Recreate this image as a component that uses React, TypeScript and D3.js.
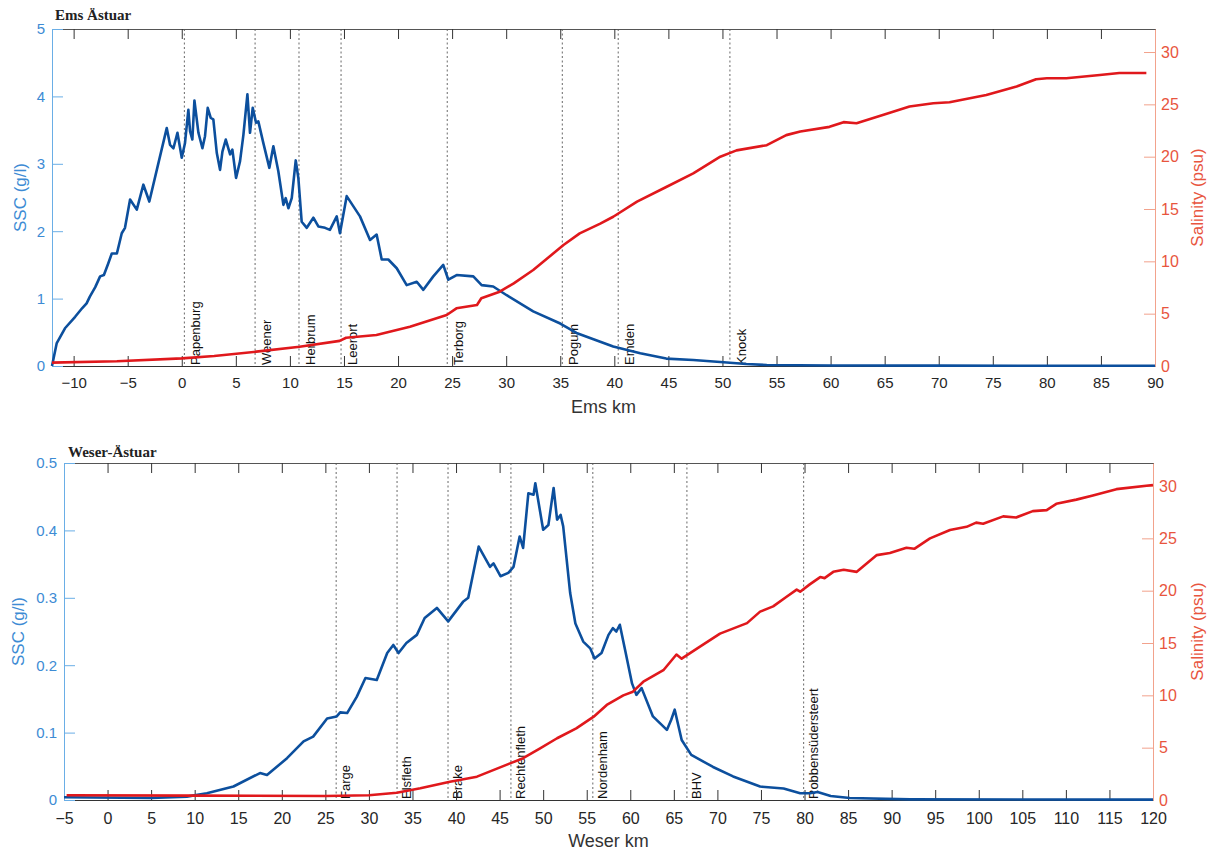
import React, { useEffect, useRef } from "react";
import * as d3 from "d3";

// Ems Ästuar
const emsSscKm = [-12, -11.56, -10.8, -9.86, -9.2, -8.8, -8.5, -8.0, -7.55, -7.2, -6.8, -6.47, -6.0, -5.55, -5.25, -4.78, -4.16, -3.55, -3.0, -2.16, -1.39, -1.08, -0.77, -0.4, 0, 0.3, 0.61, 0.77, 0.98, 1.17, 1.54, 1.91, 2.15, 2.4, 2.68, 2.92, 3.24, 3.54, 3.76, 4.07, 4.47, 4.68, 5.02, 5.39, 5.7, 6.07, 6.31, 6.56, 6.87, 7.08, 7.54, 8.1, 8.47, 8.93, 9.4, 9.61, 9.86, 10.17, 10.54, 10.78, 11.09, 11.56, 12.17, 12.63, 13.25, 13.7, 14.33, 14.63, 15.25, 16.48, 17.41, 18.02, 18.49, 19.1, 19.88, 20.8, 21.73, 22.34, 23.26, 24.18, 24.65, 25.42, 26.96, 27.73, 28.8, 30.05, 32.5, 35.0, 36.5, 38.7, 39.9, 42.4, 44.8, 47.3, 49.8, 52.2, 54.1, 60, 70, 80, 90];
const emsSsc = [0.0, 0.34, 0.56, 0.73, 0.86, 0.93, 1.03, 1.17, 1.33, 1.35, 1.52, 1.67, 1.67, 1.97, 2.05, 2.47, 2.32, 2.69, 2.44, 3.01, 3.53, 3.28, 3.23, 3.46, 3.09, 3.31, 3.80, 3.48, 3.36, 3.94, 3.46, 3.23, 3.41, 3.83, 3.68, 3.66, 3.16, 2.91, 3.18, 3.36, 3.14, 3.21, 2.79, 3.04, 3.43, 4.03, 3.46, 3.83, 3.61, 3.63, 3.31, 2.94, 3.26, 2.89, 2.39, 2.49, 2.34, 2.49, 3.05, 2.79, 2.14, 2.05, 2.20, 2.07, 2.05, 2.02, 2.22, 1.97, 2.52, 2.22, 1.87, 1.95, 1.58, 1.58, 1.45, 1.20, 1.25, 1.13, 1.33, 1.50, 1.28, 1.35, 1.33, 1.20, 1.18, 1.05, 0.81, 0.63, 0.49, 0.36, 0.29, 0.19, 0.11, 0.09, 0.06, 0.03, 0.015, 0.008, 0.005, 0.004, 0.003];
const emsSalKm = [-12, -6, 0, 3, 6.9, 10.9, 14.6, 15.2, 18.0, 21.1, 24.5, 25.4, 27.3, 27.7, 29.4, 30.7, 32.5, 35.3, 36.8, 38.7, 39.9, 42.1, 44.8, 47.3, 49.8, 51.3, 54.1, 55.9, 57.2, 59.9, 61.2, 62.4, 64.9, 67.3, 69.5, 71.0, 74.4, 77.2, 79.0, 80.0, 81.8, 84.9, 86.7, 89.2];
const emsSal = [0.32, 0.45, 0.73, 0.95, 1.37, 1.84, 2.40, 2.7, 2.96, 3.76, 4.87, 5.51, 5.83, 6.47, 7.1, 7.9, 9.17, 11.56, 12.67, 13.6, 14.26, 15.7, 17.1, 18.4, 20.0, 20.6, 21.1, 22.06, 22.4, 22.85, 23.3, 23.2, 24.0, 24.8, 25.1, 25.2, 25.9, 26.7, 27.4, 27.5, 27.5, 27.8, 28.0, 28.0];
const emsStations = ["Papenburg", "Weener", "Herbrum", "Leerort", "Terborg", "Pogum", "Emden", "Knock"];
const emsStationKm = [0.24, 6.78, 10.84, 14.73, 24.55, 35.19, 40.36, 50.69];
const emsXTicks = [-10, -5, 0, 5, 10, 15, 20, 25, 30, 35, 40, 45, 50, 55, 60, 65, 70, 75, 80, 85, 90];
const emsSscTicks = [0, 1, 2, 3, 4, 5];
const emsSscLabels = ["0", "1", "2", "3", "4", "5"];

// Weser-Ästuar
const weserSscKm = [-5, 5, 9.1, 11.4, 14.45, 17.5, 18.3, 20.6, 22.5, 23.6, 25.2, 26.3, 26.7, 27.5, 28.6, 29.6, 30.9, 32.1, 32.8, 33.4, 34.3, 35.5, 36.4, 37.8, 39.1, 40.8, 41.4, 42.6, 43.9, 44.3, 45.1, 46.0, 46.6, 47.3, 47.7, 48.3, 48.9, 49.1, 50.0, 50.6, 51.2, 51.6, 52.0, 52.3, 53.1, 53.7, 54.6, 55.4, 55.9, 56.7, 57.5, 58.0, 58.4, 58.8, 59.4, 60.2, 60.7, 61.3, 62.6, 64.2, 64.7, 65.1, 65.9, 67.0, 69.5, 71.8, 74.9, 77.6, 79.5, 80.6, 81.5, 83, 85.2, 92.1, 120];
const weserSsc = [0.004, 0.003, 0.005, 0.010, 0.020, 0.040, 0.037, 0.062, 0.087, 0.094, 0.121, 0.124, 0.130, 0.129, 0.153, 0.181, 0.178, 0.218, 0.230, 0.218, 0.233, 0.245, 0.270, 0.285, 0.265, 0.294, 0.300, 0.376, 0.346, 0.351, 0.332, 0.337, 0.346, 0.391, 0.374, 0.455, 0.453, 0.470, 0.401, 0.408, 0.463, 0.416, 0.423, 0.406, 0.307, 0.262, 0.235, 0.225, 0.210, 0.218, 0.245, 0.255, 0.250, 0.260, 0.223, 0.173, 0.156, 0.166, 0.124, 0.104, 0.119, 0.134, 0.089, 0.067, 0.049, 0.035, 0.020, 0.017, 0.010, 0.010, 0.012, 0.006, 0.003, 0.001, 0.0005];
const weserSalKm = [-4.7, 10, 25, 30, 33.2, 35.9, 39.3, 42.4, 46.2, 47.7, 49.6, 51.6, 53.8, 55.8, 57.3, 59.2, 60.3, 61.5, 63.8, 65.3, 65.9, 68.0, 70.3, 73.4, 74.9, 76.4, 77.9, 79.1, 79.5, 80.6, 81.8, 82.3, 83.3, 84.5, 86.0, 88.3, 89.8, 91.7, 92.6, 94.4, 96.7, 98.6, 99.7, 100.5, 102.8, 104.3, 106.2, 107.8, 108.9, 111.2, 113.1, 115.8, 120];
const weserSal = [0.45, 0.42, 0.38, 0.45, 0.70, 1.12, 1.75, 2.23, 3.5, 3.99, 4.9, 5.9, 6.85, 7.96, 9.08, 10.0, 10.35, 11.3, 12.4, 13.9, 13.5, 14.65, 15.9, 16.9, 18.0, 18.5, 19.4, 20.1, 19.9, 20.6, 21.3, 21.2, 21.8, 22.0, 21.8, 23.4, 23.6, 24.1, 24.0, 25.0, 25.8, 26.1, 26.5, 26.4, 27.1, 27.0, 27.6, 27.7, 28.3, 28.7, 29.1, 29.7, 30.1];
const weserStations = ["Farge", "Elsfleth", "Brake", "Rechtenfleth", "Nordenham", "BHV", "Robbensüdersteert"];
const weserStationKm = [26.24, 33.23, 39.08, 46.3, 55.7, 66.5, 79.9];
const weserXTicks = [-5, 0, 5, 10, 15, 20, 25, 30, 35, 40, 45, 50, 55, 60, 65, 70, 75, 80, 85, 90, 95, 100, 105, 110, 115, 120];
const weserSscTicks = [0, 0.1, 0.2, 0.3, 0.4, 0.5];
const weserSscLabels = ["0", "0.1", "0.2", "0.3", "0.4", "0.5"];

const salTicks = [0, 5, 10, 15, 20, 25, 30];

const SSC_COLOR = "#0c4f9d";
const SAL_COLOR = "#e0181c";
const LEFT_AXIS = "#3d8bd4";
const RIGHT_AXIS = "#e8553e";
const FONT = "'Liberation Sans', Arial, sans-serif";

function drawPanel(svg, p) {
    const x = d3.scaleLinear().domain(p.xDomain).range([p.left, p.right]);
    const y = d3.scaleLinear().domain([0, p.sscMax]).range([p.bottom, p.top]);
    const y2 = d3.scaleLinear().domain([0, p.salMax]).range([p.bottom, p.top]);

    const g = svg.append("g");

    // title
    g.append("text")
        .attr("x", p.titleX)
        .attr("y", p.titleY)
        .attr("font-family", "'Liberation Serif', 'Times New Roman', serif")
        .attr("font-weight", "bold")
        .attr("font-size", 15)
        .attr("fill", "#222")
        .text(p.title);

    // station lines
    p.stationKm.forEach((km, i) => {
        g.append("line")
            .attr("x1", x(km)).attr("x2", x(km))
            .attr("y1", p.top).attr("y2", p.bottom)
            .attr("stroke", "#444")
            .attr("stroke-width", 1)
            .attr("stroke-dasharray", "2,2.5")
            .attr("opacity", 0.8);
        g.append("text")
            .attr("transform", "translate(" + (x(km) + p.stationOffset) + "," + (p.bottom - 1) + ") rotate(-90)")
            .attr("font-family", FONT)
            .attr("font-size", 13)
            .attr("fill", "#111")
            .text(p.stations[i]);
    });

    // top box line with ticks
    const topAxis = g.append("g")
        .attr("transform", "translate(0," + p.top + ")")
        .call(d3.axisTop(x).tickValues(p.xTicks).tickSize(-10).tickSizeOuter(0).tickFormat(() => ""));
    topAxis.select(".domain").attr("stroke", "#555");
    topAxis.selectAll(".tick line").attr("stroke", "#333");

    // bottom axis
    const bottomAxis = g.append("g")
        .attr("transform", "translate(0," + p.bottom + ")")
        .call(d3.axisBottom(x).tickValues(p.xTicks).tickSize(-10).tickSizeOuter(0).tickPadding(p.xPad));
    bottomAxis.select(".domain").attr("stroke", "#333");
    bottomAxis.selectAll(".tick line").attr("stroke", "#333");
    bottomAxis.selectAll("text")
        .attr("font-family", FONT)
        .attr("font-size", p.xFont)
        .attr("fill", "#262626");

    // left axis
    const leftAxis = g.append("g")
        .attr("transform", "translate(" + p.left + ",0)")
        .call(d3.axisLeft(y).tickValues(p.sscTicks).tickSize(-11).tickSizeOuter(0).tickPadding(7)
            .tickFormat((d, i) => p.sscLabels[i]));
    leftAxis.select(".domain").attr("stroke", "#6aaee6");
    leftAxis.selectAll(".tick line").attr("stroke", "#6aaee6");
    leftAxis.selectAll("text")
        .attr("font-family", FONT)
        .attr("font-size", 15)
        .attr("fill", LEFT_AXIS);

    // right axis
    const rightAxis = g.append("g")
        .attr("transform", "translate(" + p.right + ",0)")
        .call(d3.axisRight(y2).tickValues(salTicks).tickSize(-11).tickSizeOuter(0).tickPadding(6));
    rightAxis.select(".domain").attr("stroke", "#f2a28c");
    rightAxis.selectAll(".tick line").attr("stroke", "#f2a28c");
    rightAxis.selectAll("text")
        .attr("font-family", FONT)
        .attr("font-size", 16)
        .attr("fill", RIGHT_AXIS);

    // axis titles
    g.append("text")
        .attr("transform", "translate(" + p.leftTitleX + "," + ((p.top + p.bottom) / 2) + ") rotate(-90)")
        .attr("text-anchor", "middle")
        .attr("font-family", FONT)
        .attr("font-size", 17)
        .attr("fill", LEFT_AXIS)
        .text("SSC (g/l)");
    g.append("text")
        .attr("transform", "translate(1203," + ((p.top + p.bottom) / 2) + ") rotate(-90)")
        .attr("text-anchor", "middle")
        .attr("font-family", FONT)
        .attr("font-size", 17)
        .attr("fill", RIGHT_AXIS)
        .text("Salinity (psu)");
    g.append("text")
        .attr("x", (p.left + p.right) / 2)
        .attr("y", p.xTitleY)
        .attr("text-anchor", "middle")
        .attr("font-family", FONT)
        .attr("font-size", 18)
        .attr("fill", "#333")
        .text(p.xTitle);

    // curves
    const ssc = d3.line().x(d => x(d[0])).y(d => y(d[1])).curve(d3.curveLinear);
    const sal = d3.line().x(d => x(d[0])).y(d => y2(d[1])).curve(d3.curveLinear);

    g.append("path")
        .datum(d3.zip(p.sscKm, p.ssc))
        .attr("d", ssc)
        .attr("fill", "none")
        .attr("stroke", SSC_COLOR)
        .attr("stroke-width", 2.6)
        .attr("stroke-linejoin", "round");

    g.append("path")
        .datum(d3.zip(p.salKm, p.sal))
        .attr("d", sal)
        .attr("fill", "none")
        .attr("stroke", SAL_COLOR)
        .attr("stroke-width", 2.6)
        .attr("stroke-linejoin", "round");
}

export default function App() {
    const ref = useRef(null);

    useEffect(() => {
        const svg = d3.select(ref.current);
        svg.selectAll("*").remove();

        drawPanel(svg, {
            title: "Ems Ästuar", titleX: 55, titleY: 20,
            left: 52, right: 1155, top: 29, bottom: 366,
            xDomain: [-12, 90], sscMax: 5, salMax: 32.2,
            xTicks: emsXTicks, sscTicks: emsSscTicks, sscLabels: emsSscLabels,
            sscKm: emsSscKm, ssc: emsSsc, salKm: emsSalKm, sal: emsSal,
            stations: emsStations, stationKm: emsStationKm, stationOffset: 16,
            xPad: 11, xFont: 15, xTitle: "Ems km", xTitleY: 413, leftTitleX: 26,
        });

        drawPanel(svg, {
            title: "Weser-Ästuar", titleX: 68, titleY: 457,
            left: 64, right: 1153, top: 463, bottom: 800,
            xDomain: [-5, 120], sscMax: 0.5, salMax: 32.2,
            xTicks: weserXTicks, sscTicks: weserSscTicks, sscLabels: weserSscLabels,
            sscKm: weserSscKm, ssc: weserSsc, salKm: weserSalKm, sal: weserSal,
            stations: weserStations, stationKm: weserStationKm, stationOffset: 14,
            xPad: 13, xFont: 16, xTitle: "Weser km", xTitleY: 847, leftTitleX: 24,
        });
    }, []);

    return (
        <svg
            ref={ref}
            width={1210}
            height={852}
            style={{ position: "absolute", left: 0, top: 0, background: "#fff" }}
        />
    );
}
